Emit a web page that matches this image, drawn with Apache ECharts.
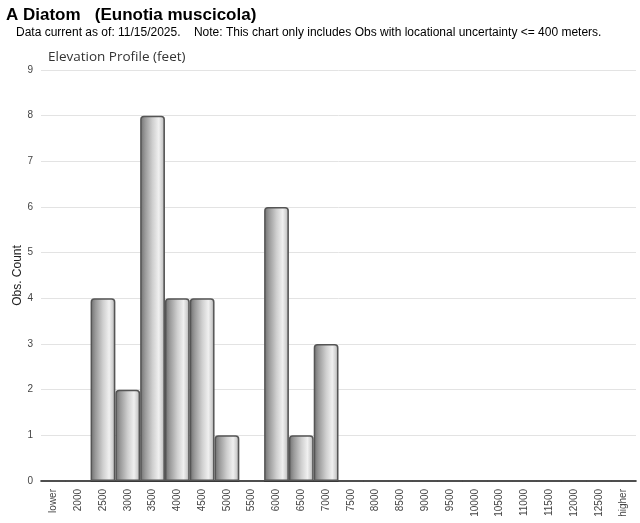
<!DOCTYPE html>
<html>
<head>
<meta charset="utf-8">
<script src="https://cdn.jsdelivr.net/npm/echarts@6/dist/echarts.min.js"></script>
<style>html,body{margin:0;padding:0;background:#fff}#c{width:640px;height:523px}</style>
</head>
<body>
<div id="c"></div>
<script>
var categories = ['lower','2000','2500','3000','3500','4000','4500','5000','5500','6000','6500','7000','7500','8000','8500','9000','9500','10000','10500','11000','11500','12000','12500','higher'];
var counts = [0,0,4,2,8,4,4,1,0,6,1,3,0,0,0,0,0,0,0,0,0,0,0,0];
var mainTitle = 'A Diatom   (Eunotia muscicola)';
var subTitle = 'Data current as of: 11/15/2025.    Note: This chart only includes Obs with locational uncertainty <= 400 meters.';
var chartTitle = 'Elevation Profile (feet)';
var yTitle = 'Obs. Count';

var chart = echarts.init(document.getElementById('c'), null, {renderer:'canvas'});
var barGrad = new echarts.graphic.LinearGradient(0,0,1,0,[
  {offset:0,color:'#6e6e6e'},
  {offset:0.2,color:'#9a9a9a'},
  {offset:0.5,color:'#cfcfcf'},
  {offset:0.75,color:'#f0f0f0'},
  {offset:0.9,color:'#cdcdcd'},
  {offset:1,color:'#858585'}
]);
chart.setOption({
  animation:false,
  title:[
    {text:mainTitle,left:6,top:7,padding:0,textStyle:{fontFamily:'Liberation Sans, Arial',fontSize:17,fontWeight:'bold',color:'#000'}},
    {text:subTitle,left:16,top:27,padding:0,textStyle:{fontFamily:'Liberation Sans, Arial',fontSize:12,fontWeight:'normal',color:'#000'}},
    {text:chartTitle,left:48,top:50,padding:0,textStyle:{fontFamily:'Open Sans, DejaVu Sans',fontSize:13.5,fontWeight:'normal',color:'#333'}}
  ],
  grid:{left:41,right:4,top:70,bottom:42,containLabel:false,outerBoundsMode:'none'},
  xAxis:{
    type:'category',
    data:categories,
    axisLine:{lineStyle:{color:'#000',width:1.5}},
    axisTick:{alignWithLabel:true,length:5,lineStyle:{color:'#bbb'}},
    axisLabel:{rotate:90,fontSize:10,color:'#444',fontFamily:'Liberation Sans, Arial',interval:0,margin:8}
  },
  yAxis:{
    type:'value',min:0,max:9,interval:1,
    name:yTitle,nameLocation:'middle',nameGap:17,nameMoveOverlap:false,
    nameTextStyle:{fontSize:12,color:'#222',fontFamily:'Liberation Sans, Arial'},
    axisLine:{show:false},axisTick:{show:false},
    axisLabel:{fontSize:10,color:'#444',fontFamily:'Liberation Sans, Arial',margin:8},
    splitLine:{lineStyle:{color:'#e3e3e3'}}
  },
  series:[{
    type:'bar',
    data:counts,
    barCategoryGap:'0%',
    itemStyle:{color:barGrad,borderColor:'#555',borderWidth:1.5,borderRadius:[3,3,0,0]}
  }]
});
</script>
</body>
</html>
